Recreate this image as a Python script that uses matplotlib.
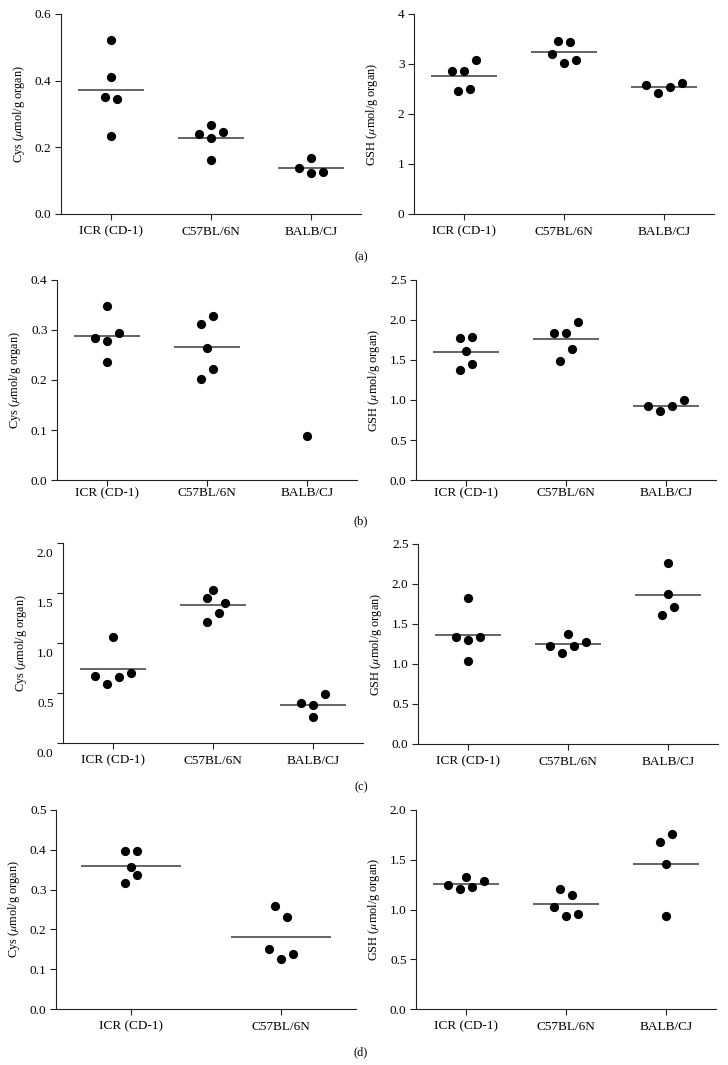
import numpy as np
import matplotlib
matplotlib.use("Agg")
import matplotlib.pyplot as plt
import matplotlib.transforms as mtransforms

plt.rcParams['font.family'] = ['Liberation Serif', 'DejaVu Serif']
plt.rcParams['mathtext.fontset'] = 'stix'

strains = ['ICR (CD-1)', 'C57BL/6N', 'BALB/CJ']

# (a)
a_cys_icr = [0.522, 0.412, 0.350, 0.346, 0.235]
a_cys_c57 = [0.267, 0.240, 0.246, 0.227, 0.163]
a_cys_balb = [0.169, 0.139, 0.123, 0.125]
a_gsh_icr = [2.856, 2.856, 3.090, 2.460, 2.495]
a_gsh_c57 = [3.465, 3.438, 3.210, 3.077, 3.017]
a_gsh_balb = [2.575, 2.428, 2.542, 2.622]
# (b)
b_cys_icr = [0.349, 0.285, 0.279, 0.294, 0.237]
b_cys_c57 = [0.312, 0.329, 0.264, 0.222, 0.203]
b_cys_balb = [0.088]
b_gsh_icr = [1.775, 1.792, 1.613, 1.379, 1.454]
b_gsh_c57 = [1.842, 1.838, 1.979, 1.642, 1.492]
b_gsh_balb = [0.929, 0.867, 0.929, 0.996]
# (c)
c_cys_icr = [1.056, 0.674, 0.588, 0.664, 0.698]
c_cys_c57 = [1.528, 1.449, 1.402, 1.299, 1.209]
c_cys_balb = [0.405, 0.385, 0.488, 0.259]
c_gsh_icr = [1.829, 1.333, 1.300, 1.333, 1.033]
c_gsh_c57 = [1.229, 1.138, 1.379, 1.221, 1.275]
c_gsh_balb = [2.267, 1.871, 1.717, 1.613]
# (d)
d_cys_icr = [0.397, 0.397, 0.356, 0.336, 0.316]
d_cys_c57 = [0.259, 0.230, 0.152, 0.125, 0.139]
d_gsh_icr = [1.249, 1.202, 1.329, 1.225, 1.282]
d_gsh_c57 = [1.202, 1.149, 1.028, 0.938, 0.955]
d_gsh_balb = [1.679, 1.760, 1.456, 0.938]

# swarm slot of each dot (multiples of a 6 px sideways step)
a_cys_slots = [[0, 0, -1, 1, 0], [0, -2, 2, 0, 0], [0, -2, 0, 2]]
a_gsh_slots = [[-2, 0, 2, -1, 1], [-1, 1, -2, 2, 0], [-3, -1, 1, 3]]
b_cys_slots = [[0, -2, 0, 2, 0], [-1, 1, 0, 1, -1], [0]]
b_gsh_slots = [[-1, 1, 0, -1, 1], [-2, 0, 2, 1, -1], [-3, -1, 1, 3]]
c_cys_slots = [[0, -3, -1, 1, 3], [0, -1, 2, 1, -1], [-2, 0, 2, 0]]
c_gsh_slots = [[0, -2, 0, 2, 0], [-3, -1, 0, 1, 3], [0, 0, 1, -1]]
d_cys_slots = [[-1, 1, 0, 1, -1], [-1, 1, -2, 0, 2]]
d_gsh_slots = [[-3, -1, 0, 1, 3], [-1, 1, -2, 0, 2], [-1, 1, 0, 0]]

cys_label = r'Cys ($\mu$mol/g organ)'
gsh_label = r'GSH ($\mu$mol/g organ)'

W, H = 728, 1065
fig = plt.figure(figsize=(W / 100, H / 100), dpi=100)

# panel boxes in pixels: left, top, right, bottom
panels = [
    dict(box=(61, 14, 361, 214), groups=[a_cys_icr, a_cys_c57, a_cys_balb], slots=a_cys_slots,
         ymax=0.6, step=0.2, fmt='%.1f', ylabel=cys_label, xpad=4.0, ylab_shift=0),
    dict(box=(414, 14, 714, 214), groups=[a_gsh_icr, a_gsh_c57, a_gsh_balb], slots=a_gsh_slots,
         ymax=4, step=1, fmt='%d', ylabel=gsh_label, xpad=4.0, ylab_shift=0),
    dict(box=(57, 280, 357, 480), groups=[b_cys_icr, b_cys_c57, b_cys_balb], slots=b_cys_slots,
         ymax=0.4, step=0.1, fmt='%.1f', ylabel=cys_label, xpad=0.8, ylab_shift=0),
    dict(box=(416, 280, 716, 480), groups=[b_gsh_icr, b_gsh_c57, b_gsh_balb], slots=b_gsh_slots,
         ymax=2.5, step=0.5, fmt='%.1f', ylabel=gsh_label, xpad=0.8, ylab_shift=0),
    dict(box=(63, 543, 363, 743), groups=[c_cys_icr, c_cys_c57, c_cys_balb], slots=c_cys_slots,
         ymax=2.0, step=0.5, fmt='%.1f', ylabel=cys_label, xpad=4.0, ylab_shift=-7),
    dict(box=(418, 544, 718, 744), groups=[c_gsh_icr, c_gsh_c57, c_gsh_balb], slots=c_gsh_slots,
         ymax=2.5, step=0.5, fmt='%.1f', ylabel=gsh_label, xpad=4.0, ylab_shift=0),
    dict(box=(56, 810, 356, 1009), groups=[d_cys_icr, d_cys_c57], slots=d_cys_slots,
         ymax=0.5, step=0.1, fmt='%.1f', ylabel=cys_label, xpad=4.0, ylab_shift=0),
    dict(box=(416, 810, 716, 1009), groups=[d_gsh_icr, d_gsh_c57, d_gsh_balb], slots=d_gsh_slots,
         ymax=2.0, step=0.5, fmt='%.1f', ylabel=gsh_label, xpad=4.0, ylab_shift=0),
]

for p in panels:
    l, t, r, b = p['box']
    ax = fig.add_axes([l / W, 1 - b / H, (r - l) / W, (b - t) / H])
    n = len(p['groups'])
    ax.set_xlim(-0.5, n - 0.5)
    ax.set_ylim(0, p['ymax'])
    slot = 6.0 * n / (r - l)  # 6 px in data units

    for i, (vals, sl) in enumerate(zip(p['groups'], p['slots'])):
        vals = np.array(vals)
        xs = i + np.array(sl) * slot
        ax.scatter(xs, vals, s=44, color='black', zorder=3, linewidths=0, clip_on=False)
        if len(vals) > 1:
            ax.hlines(vals.mean(), i - 0.333, i + 0.333, color='#3a3a3a', lw=1.1, zorder=2)

    ax.set_xticks(range(n))
    ax.set_xticklabels(strains[:n])
    yt = np.arange(0, p['ymax'] + 1e-9, p['step'])
    ax.set_yticks(yt)
    ax.set_yticklabels([p['fmt'] % v for v in yt])
    ax.set_ylabel(p['ylabel'], fontsize=8.8)
    ax.yaxis.set_label_coords(-0.112, 0.5)

    for s in ['top', 'right']:
        ax.spines[s].set_visible(False)
    for s in ['left', 'bottom']:
        ax.spines[s].set_linewidth(0.8)
        ax.spines[s].set_color('#222222')
    ax.tick_params(axis='both', direction='out', length=4.3, width=0.8, color='#222222',
                   labelsize=9.5)
    ax.tick_params(axis='x', pad=p['xpad'])
    ax.tick_params(axis='y', pad=2.5)

    if p['ylab_shift']:
        off = mtransforms.ScaledTranslation(0, p['ylab_shift'] / 72, fig.dpi_scale_trans)
        for lab in ax.get_yticklabels():
            lab.set_transform(lab.get_transform() + off)

# panel letters
for txt, y in [('(a)', 257), ('(b)', 521), ('(c)', 787), ('(d)', 1052)]:
    fig.text(361 / W, 1 - y / H, txt, ha='center', va='center', fontsize=9)

fig.savefig('out.png', dpi=100)
